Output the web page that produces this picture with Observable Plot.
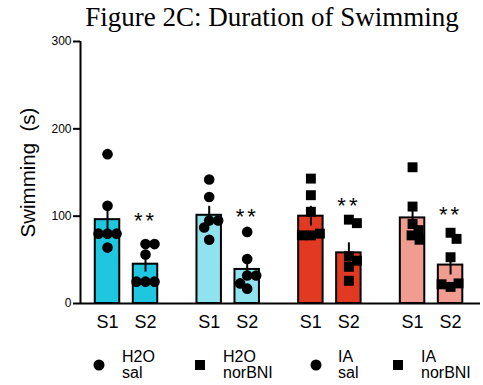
<!DOCTYPE html>
<html>
<head>
<meta charset="utf-8">
<script src="https://cdn.jsdelivr.net/npm/d3@7"></script>
<script src="https://cdn.jsdelivr.net/npm/@observablehq/plot@0.6"></script>
<style>
  html, body { margin: 0; padding: 0; background: #fff; }
  #wrap { width: 483px; height: 385px; position: relative; overflow: hidden; }
  #title { height: 33px; box-sizing: border-box; padding-left: 61px; text-align: center;
           font-family: "Liberation Serif", "Times New Roman", serif; font-size: 27px;
           line-height: 27px; padding-top: 4px; color: #000; white-space: nowrap; }
  #legend { position: absolute; left: 0; top: 338px; }
</style>
</head>
<body>
<div id="wrap">
  <div id="title">Figure 2C: Duration of Swimming</div>
  <div id="chart"></div>
  <div id="legend"></div>
</div>
<script>
// ---- data ----
const groups = ["H2O sal", "H2O norBNI", "IA sal", "IA norBNI"];
const sessions = ["S1", "S2"];
const groupColors = ["#1fc6df", "#8ee3ef", "#e23a22", "#f19c91"];
const groupSymbols = ["circle", "circle", "square", "square"];
// bar heights (mean) per group, [S1, S2]
const barMeans = [[96, 45], [101, 39], [100, 58], [98, 44]];
// individual animals per group
const s1Values = [
  [171, 112, 80, 80, 80, 64],
  [142, 122, 95, 95, 87, 73],
  [143, 124, 105, 78, 80, 78],
  [156, 111, 91, 84, 78, 73]
];
const s2Values = [
  [68, 68, 56, 25, 25, 25],
  [82, 51, 32, 32, 17, 23],
  [96, 92, 54, 49, 42, 26],
  [81, 74, 53, 19, 23, 22]
];
// significance marks above S2 bars (label, y position)
const sigLabels = ["**", "**", "**", "**"];
const sigY = [94, 99, 112, 101];
const yTicks = [0, 100, 200, 300];
const yLabel = "Swimming\u00a0 (s)";
const legendLabels = [["H2O", "sal"], ["H2O", "norBNI"], ["IA", "sal"], ["IA", "norBNI"]];
const legendSymbols = ["circle", "square", "circle", "square"];

// ---- layout helpers ----
const GROUP_STEP = 2.676;   // in units of S1->S2 distance
const HALF_BAR = 0.322;
const X_MIN = -0.711, X_MAX = 9.816;
const pos = (g, s) => g * GROUP_STEP + s;

const W = 483, H = 305, mL = 80, mR = 3, mT = 8, mB = 35;
const pxPerX = (W - mL - mR) / (X_MAX - X_MIN);
const pxPerY = (H - mT - mB) / 300;

const bars = [];
const points = [];
groups.forEach((g, gi) => {
  sessions.forEach((s, si) => {
    const vals = si === 0 ? s1Values[gi] : s2Values[gi];
    const sd = d3.deviation(vals);
    const sem = sd / Math.sqrt(vals.length);
    const mean = barMeans[gi][si];
    const c = pos(gi, si);
    bars.push({group: g, gi, session: s, x: c, mean, lo: mean - sem, hi: mean + sem});
    // simple beeswarm to separate overlapping dots
    const placed = [];
    const minD = 8.5;
    vals.forEach(v => {
      const py = v * pxPerY;
      let off = 0;
      for (let k = 0; k < 60; k++) {
        const cand = k === 0 ? 0 : (k % 2 ? 1 : -1) * Math.ceil(k / 2);
        const ok = placed.every(p => (p.px - cand) ** 2 + (p.py - py) ** 2 >= minD * minD);
        if (ok) { off = cand; break; }
      }
      placed.push({px: off, py});
      points.push({gi, session: s, value: v, x: c + off / pxPerX, symbol: groupSymbols[gi]});
    });
  });
});
const tickPositions = bars.map(d => d.x);
const tickText = new Map(bars.map(d => [d.x, d.session]));
const sigData = groups.map((g, gi) => ({x: pos(gi, 1), y: sigY[gi], label: sigLabels[gi]}));

const font = "'Liberation Sans', Arial, sans-serif";

const plot = Plot.plot({
  width: W, height: H,
  marginLeft: mL, marginRight: mR, marginTop: mT, marginBottom: mB,
  style: {fontFamily: font, color: "#000", background: "#fff"},
  x: {domain: [X_MIN, X_MAX], axis: null},
  y: {domain: [0, 300], axis: null},
  marks: [
    Plot.rectY(bars, {x1: d => d.x - HALF_BAR, x2: d => d.x + HALF_BAR, y1: 0, y2: "mean",
      fill: d => groupColors[d.gi], stroke: "#000", strokeWidth: 2}),
    Plot.ruleX(bars, {x: "x", y1: "lo", y2: "hi", stroke: "#000", strokeWidth: 2}),
    Plot.dot(points.filter(d => d.symbol === "circle"), {x: "x", y: "value", r: 5.3, fill: "#000", symbol: "circle"}),
    Plot.dot(points.filter(d => d.symbol === "square"), {x: "x", y: "value", r: 5.6, fill: "#000", symbol: "square"}),
    Plot.ruleY([0], {stroke: "#000", strokeWidth: 2}),
    Plot.ruleX([X_MIN], {y1: 0, y2: 300, stroke: "#000", strokeWidth: 2}),
    Plot.axisY({ticks: yTicks, tickSize: 7, tickPadding: 2, fontSize: 12, strokeWidth: 2, label: null, tickFormat: d3.format("d")}),
    Plot.axisX({ticks: tickPositions, tickSize: 0, tickPadding: 12, fontSize: 18, label: null, tickFormat: d => tickText.get(d)}),
    Plot.text(sigData, {x: "x", y: "y", text: "label", fontSize: 22, fill: "#000"}),
    Plot.text([yLabel], {frameAnchor: "left", textAnchor: "middle", dx: -52, rotate: -90, fontSize: 20.5, fill: "#000"})
  ]
});
document.getElementById("chart").appendChild(plot);
d3.select(plot).selectAll("text").filter(function() { return this.textContent === "**"; })
  .style("letter-spacing", "3px");

// ---- legend ----
const legendX = [99, 200, 316, 398];
const legendTextX = [122, 223, 338, 421];
const lg = d3.select("#legend").append("svg").attr("width", W).attr("height", 47);
legendLabels.forEach((lines, i) => {
  const sym = d3.symbol().type(legendSymbols[i] === "circle" ? d3.symbolCircle : d3.symbolSquare)
    .size(legendSymbols[i] === "circle" ? Math.PI * 5.5 * 5.5 : 100);
  lg.append("path").attr("d", sym()).attr("transform", `translate(${legendX[i]},27)`).attr("fill", "#000");
  lines.forEach((t, j) => {
    lg.append("text").attr("x", legendTextX[i]).attr("y", 24 + j * 16)
      .attr("font-family", font).attr("font-size", 16).attr("fill", "#000").text(t);
  });
});
</script>
</body>
</html>
